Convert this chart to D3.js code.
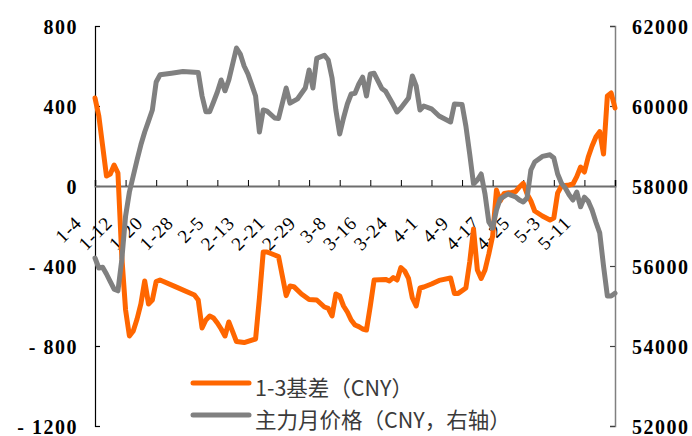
<!DOCTYPE html>
<html>
<head>
<meta charset="utf-8">
<script src="https://cdn.jsdelivr.net/npm/d3@7/dist/d3.min.js"></script>
<style>
  html, body { margin: 0; padding: 0; background: #fff; }
  svg { display: block; }
</style>
</head>
<body>
<svg id="chart" width="692" height="436"></svg>
<script>
// ---- data (day offsets from 2024-01-04) ----
const tickLabels = ["1-4","1-12","1-20","1-28","2-5","2-13","2-21","2-29","3-8","3-16","3-24","4-1","4-9","4-17","4-25","5-3","5-11"];
const tickStepDays = 8;
const totalDays = 136;

const leftTicks = [800, 400, 0, -400, -800, -1200];
const rightTicks = [62000, 60000, 58000, 56000, 54000, 52000];

const basisDays = [0,1,2,3,4,5,6,7,8,9,10,11,12,13,14,15,16,17,21,26,27,28,29,30,31,32,33,34,35,36,37,39,42,43,44,45,47,48,49,50,51,52,54,56,58,60,61,62,63,64,65,66,67,68,69,70,71,72,73,76,77,78,79,80,81,82,83,84,85,86,88,90,93,94,95,97,98,99,100,101,102,103,104,105,106,107,109,110,111,112,113,114,115,117,119,120,121,122,124,125,126,127,128,129,130,131,132,133,134,135,136];
const basisValues = [440,350,200,50,60,105,65,-350,-620,-750,-725,-665,-589,-475,-590,-570,-478,-470,-503,-545,-570,-710,-670,-650,-660,-685,-715,-750,-680,-728,-778,-783,-765,-560,-330,-330,-345,-353,-450,-548,-500,-503,-540,-568,-570,-605,-612,-650,-540,-550,-600,-630,-670,-695,-703,-715,-720,-600,-470,-467,-475,-458,-470,-408,-425,-462,-560,-600,-510,-505,-490,-472,-460,-537,-537,-510,-380,-215,-420,-462,-420,-340,-250,-20,-75,-37,-32,-28,-5,13,-40,-75,-125,-150,-170,-160,-35,0,5,10,47,95,70,145,200,245,272,160,450,465,390];

const priceDays = [0,1,2,3,4,5,6,7,8,9,10,11,12,13,14,15,16,17,20,23,27,28,29,30,31,32,33,34,35,36,37,38,39,40,41,42,43,44,45,47,48,50,51,53,55,56,57,58,60,61,62,63,64,65,66,67,68,69,70,71,72,73,75,76,78,79,80,82,83,84,85,86,88,90,93,94,96,97,98,99,100,101,102,103,104,105,106,108,110,111,112,113,114,115,117,119,120,121,122,123,124,125,126,127,128,129,130,131,132,133,134,135,136];
const priceValues = [56200,55950,55967,55800,55610,55420,55380,56150,57250,57850,58250,58650,59030,59350,59620,59900,60600,60780,60820,60860,60840,60250,59858,59858,60100,60350,60650,60380,60650,61050,61450,61300,61000,60800,60530,60250,59350,59900,59870,59700,59690,60450,60070,60180,60450,60900,60450,61190,61270,61150,60700,59900,59300,59700,60050,60300,60317,60550,60720,60250,60800,60817,60440,60370,60030,59850,59950,60200,60750,60500,59900,60000,59930,59750,59600,60050,60040,59500,58800,58050,58150,58300,57800,57100,56950,57400,57680,57800,57730,57650,57600,57700,58400,58600,58740,58780,58700,58300,58070,57950,57780,57650,57850,57480,57720,57620,57400,57100,56830,56000,55250,55250,55320];

const legendLabels = ["1-3基差（CNY）", "主力月价格（CNY，右轴）"];
const seriesColors = ["#FF6600", "#808080"];

// ---- layout ----
const svg = d3.select("#chart");
const plot = { left: 95, right: 615, top: 26, bottom: 426 };

const x = d3.scaleLinear().domain([0, totalDays]).range([plot.left, plot.right]);
const yL = d3.scaleLinear().domain([-1200, 800]).range([plot.bottom, plot.top]);
const yR = d3.scaleLinear().domain([52000, 62000]).range([plot.bottom, plot.top]);

const numFont = "'Liberation Serif', 'Times New Roman', serif";

// left axis
const leftAxis = d3.axisLeft(yL).tickValues(leftTicks).tickSize(-5).tickPadding(0).tickFormat(d => d < 0 ? "- " + Math.abs(d) : d);
const gL = svg.append("g").attr("transform", `translate(${plot.left},0)`).call(leftAxis);
gL.select(".domain").attr("stroke", "#000").attr("stroke-width", 1.2);
gL.selectAll(".tick line").attr("stroke", "#000").attr("stroke-width", 1.2);
gL.selectAll(".tick text")
  .attr("x", -17).attr("dy", "0.35em")
  .style("font-family", numFont).style("font-size", "20px").style("font-weight", "bold")
  .style("letter-spacing", "1.5px").attr("fill", "#000");

// right axis
const rightAxis = d3.axisRight(yR).tickValues(rightTicks).tickSize(-5).tickPadding(0).tickFormat(d => d);
const gR = svg.append("g").attr("transform", `translate(${plot.right},0)`).call(rightAxis);
gR.select(".domain").attr("stroke", "#808080").attr("stroke-width", 1.5);
gR.selectAll(".tick line").attr("stroke", "#404040").attr("stroke-width", 1.2);
gR.selectAll(".tick text")
  .attr("x", 17).attr("dy", "0.35em")
  .style("font-family", numFont).style("font-size", "20px").style("font-weight", "bold")
  .style("letter-spacing", "1.5px").attr("fill", "#000");

// x axis at value 0
const xTickVals = d3.range(0, totalDays + 1, tickStepDays);
const xAxis = d3.axisBottom(x).tickValues(xTickVals).tickSize(-6).tickFormat("");
const gX = svg.append("g").attr("transform", `translate(0,${yL(0)})`).call(xAxis);
gX.select(".domain").attr("stroke", "#6e6e6e").attr("stroke-width", 2);
gX.selectAll(".tick line").attr("stroke", "#000").attr("stroke-width", 1);

// rotated date labels
svg.append("g").selectAll("text")
  .data(tickLabels)
  .join("text")
  .attr("transform", (d, i) => `translate(${x(i * tickStepDays) - 12},${yL(0) + 38}) rotate(-45)`)
  .attr("text-anchor", "end")
  .style("font-family", numFont).style("font-size", "19px")
  .style("letter-spacing", "1px")
  .attr("fill", "#000")
  .text(d => d);

// lines
const lineL = d3.line().x(d => x(d[0])).y(d => yL(d[1]));
const lineR = d3.line().x(d => x(d[0])).y(d => yR(d[1]));

svg.append("path")
  .datum(basisDays.map((d, i) => [d, basisValues[i]]))
  .attr("d", lineL)
  .attr("fill", "none").attr("stroke", seriesColors[0]).attr("stroke-width", 5)
  .attr("stroke-linejoin", "round").attr("stroke-linecap", "round");

svg.append("path")
  .datum(priceDays.map((d, i) => [d, priceValues[i]]))
  .attr("d", lineR)
  .attr("fill", "none").attr("stroke", seriesColors[1]).attr("stroke-width", 5)
  .attr("stroke-linejoin", "round").attr("stroke-linecap", "round");

// legend
const legend = svg.append("g");
const legendRows = [383, 415];
legendLabels.forEach((lab, i) => {
  legend.append("line")
    .attr("x1", 193).attr("x2", 249)
    .attr("y1", legendRows[i]).attr("y2", legendRows[i])
    .attr("stroke", seriesColors[i]).attr("stroke-width", 5).attr("stroke-linecap", "round");
  legend.append("text")
    .attr("x", 255).attr("y", legendRows[i] + 13)
    .style("font-family", "'Noto Sans CJK SC', 'Noto Sans', sans-serif")
    .style("font-size", "21.5px")
    .attr("fill", "#3a3a3a")
    .text(lab);
});
</script>
</body>
</html>
